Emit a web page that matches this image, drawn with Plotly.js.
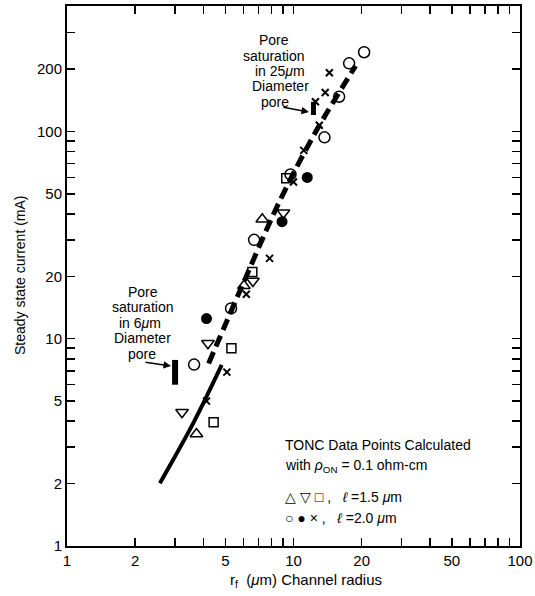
<!DOCTYPE html>
<html>
<head>
<meta charset="utf-8">
<script src="https://cdn.plot.ly/plotly-3.0.1.min.js"></script>
<style>html,body{margin:0;padding:0;background:#fff;}#chart{width:535px;height:596px;}</style>
</head>
<body>
<div id="chart"></div>
<script>
// ---- data ----
const openCircleX = [20.5, 17.6, 15.9, 13.7, 9.7, 6.7, 5.3, 3.64];
const openCircleY = [241, 213, 147, 93.6, 62, 30, 14, 7.5];
const filledCircleX = [11.5, 8.9, 4.13];
const filledCircleY = [60, 36.7, 12.5];
const crossX = [14.4, 13.8, 12.5, 13.0, 11.1, 10.0, 7.84, 6.19, 5.08, 4.13];
const crossY = [192, 154, 139, 107, 81, 57, 24.4, 16.4, 6.9, 5.0];
const upTriX = [7.28, 6.04, 3.73];
const upTriY = [37.7, 18.0, 3.47];
const downTriX = [9.03, 6.62, 4.19, 3.22];
const downTriY = [40.5, 19.0, 9.5, 4.42];
const squareX = [9.29, 6.58, 5.32, 4.44];
const squareY = [59.4, 21.0, 9.0, 3.95];
const dashedX = [4.22, 5.96, 8.68, 12.5, 18.8];
const dashedY = [7.6, 18.2, 46, 99, 207];
const solidX = [2.57, 2.99, 3.48, 4.06, 4.82];
const solidY = [2.01, 2.69, 3.63, 5.06, 7.47];
const pore6X = [3.0, 3.0];
const pore6Y = [6.0, 7.9];
const pore25X = [12.25, 12.25];
const pore25Y = [120, 139];

const xTickVals = [1,2,3,4,5,6,7,8,9,10,20,30,40,50,60,70,80,90,100];
const xTickText = ['1','2','','','5','','','','','10','20','','','50','','','','','100'];
const yTickVals = [1,2,3,4,5,6,7,8,9,10,20,30,40,50,60,70,80,90,100,200,300];
const yTickText = ['1','2','','','5','','','','','10','20','','','50','','','','','100','200',''];

const pore25Lines = ['Pore','saturation','in 25<i>μ</i>m','Diameter','pore'];
const pore6Lines = ['Pore','saturation','in 6<i>μ</i>m','Diameter','pore'];

// ---- layout helpers (pixel -> paper) ----
const L = 67, R = 520, T = 6, B = 546;
const px = v => (v - L) / (R - L);
const py = v => (B - v) / (B - T);
const FONT = 'Liberation Sans, Arial, sans-serif';

const traces = [
  {x: solidX, y: solidY, mode: 'lines', line: {color: '#000', width: 4, shape: 'spline'}},
  {x: dashedX, y: dashedY, mode: 'lines', line: {color: '#000', width: 5, dash: '12px,6px', shape: 'spline'}},
  {x: pore6X, y: pore6Y, mode: 'lines', line: {color: '#000', width: 6}},
  {x: pore25X, y: pore25Y, mode: 'lines', line: {color: '#000', width: 5}},
  {x: openCircleX, y: openCircleY, mode: 'markers', marker: {symbol: 'circle-open', size: 11, color: '#000', line: {width: 1.5}}},
  {x: filledCircleX, y: filledCircleY, mode: 'markers', marker: {symbol: 'circle', size: 11, color: '#000'}},
  {x: crossX, y: crossY, mode: 'markers', marker: {symbol: 'x-thin-open', size: 7, color: '#000', line: {width: 2, color: '#000'}}},
  {x: upTriX, y: upTriY, mode: 'markers', marker: {symbol: 'triangle-up-open', size: 11, color: '#000', line: {width: 1.5}}},
  {x: downTriX, y: downTriY, mode: 'markers', marker: {symbol: 'triangle-down-open', size: 11, color: '#000', line: {width: 1.5}}},
  {x: squareX, y: squareY, mode: 'markers', marker: {symbol: 'square-open', size: 9, color: '#000', line: {width: 1.5}}}
];

const ann = [];
const p25x = [274, 273, 280, 280, 275];
pore25Lines.forEach((t, i) => ann.push({xref: 'paper', yref: 'paper', x: px(p25x[i]), y: py(40 + i * 15.5), text: t, showarrow: false, xanchor: 'center', yanchor: 'middle', font: {size: 14}}));
const p6x = [143, 142, 140, 142.5, 142];
pore6Lines.forEach((t, i) => ann.push({xref: 'paper', yref: 'paper', x: px(p6x[i]), y: py(291.5 + i * 15.5), text: t, showarrow: false, xanchor: 'center', yanchor: 'middle', font: {size: 14}}));
// arrows
ann.push({xref: 'paper', yref: 'paper', x: px(309), y: py(112), ax: -27, ay: -5, text: '', showarrow: true, arrowhead: 2, arrowsize: 1, arrowwidth: 1.5, arrowcolor: '#000'});
ann.push({xref: 'paper', yref: 'paper', x: px(171), y: py(366), ax: -27, ay: -4, text: '', showarrow: true, arrowhead: 2, arrowsize: 1, arrowwidth: 1.5, arrowcolor: '#000'});
// legend text block
const legendLines = [
  ['TONC Data Points Calculated', 445],
  ['with <i>ρ</i><sub>ON</sub> = 0.1 ohm-cm', 466],
  ['△ ▽ □ ,   <i>ℓ</i> =1.5 <i>μ</i>m', 497],
  ['○ ● × ,   <i>ℓ</i> =2.0 <i>μ</i>m', 518]
];
legendLines.forEach(([t, y]) => ann.push({xref: 'paper', yref: 'paper', x: px(283), y: py(y), text: t, showarrow: false, xanchor: 'left', yanchor: 'middle', font: {size: 14}}));
// axis titles
ann.push({xref: 'paper', yref: 'paper', x: px(306), y: py(580), text: 'r<sub>f</sub>  (<i>μ</i>m) Channel radius', showarrow: false, xanchor: 'center', yanchor: 'middle', font: {size: 15}});
ann.push({xref: 'paper', yref: 'paper', x: px(20), y: py(275), text: 'Steady state current (mA)', textangle: -90, showarrow: false, xanchor: 'center', yanchor: 'middle', font: {size: 14}});

const axisCommon = {
  type: 'log', showgrid: false, zeroline: false, showline: true, linecolor: '#000', linewidth: 2,
  mirror: 'ticks', ticks: 'inside', ticklen: 8, tickwidth: 1.5, tickcolor: '#000',
  tickfont: {size: 15, color: '#000'}, tickmode: 'array'
};

const layout = {
  width: 535, height: 596,
  margin: {l: L, r: 535 - R, t: T, b: 596 - B},
  paper_bgcolor: '#fff', plot_bgcolor: '#fff',
  font: {family: FONT, color: '#000'},
  showlegend: false,
  xaxis: Object.assign({}, axisCommon, {range: [0, 2], tickvals: xTickVals, ticktext: xTickText}),
  yaxis: Object.assign({}, axisCommon, {range: [0, 2.605], tickvals: yTickVals, ticktext: yTickText}),
  annotations: ann
};

Plotly.newPlot('chart', traces, layout, {displayModeBar: false, staticPlot: true});
</script>
</body>
</html>
